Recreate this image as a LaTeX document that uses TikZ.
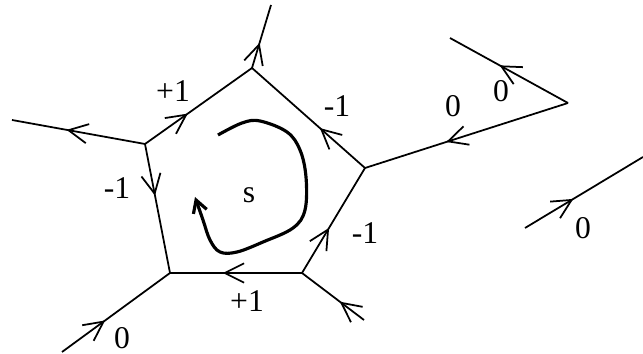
\documentclass[tikz,border=0pt]{standalone}
\usepackage{fontspec}
\setmainfont{Liberation Serif}
\usetikzlibrary{arrows.meta,decorations.markings}

\begin{document}
\begin{tikzpicture}[x=0.02cm, y=-0.02cm, line width=1pt,
    midarrow/.style={postaction={decorate}, decoration={markings, mark=at position #1 with {\arrow{Straight Barb[length=11pt,width=11pt]}}}},
    weight/.style={font=\fontsize{18}{20}\selectfont, inner sep=0pt},
    swirl/.style={line width=1.8pt, -{Straight Barb[length=7pt,width=8pt]}}]
            \useasboundingbox (0,0) rectangle (643,354);

            % Pentagon corners and free ends
            \coordinate (top) at (252,68);
            \coordinate (lft) at (145,144);
            \coordinate (bl) at (170,273);
            \coordinate (br) at (302,273);
            \coordinate (rgt) at (365,168);
            \coordinate (topout) at (271,5);
            \coordinate (lftout) at (12,120);
            \coordinate (blout) at (62,352);
            \coordinate (brout) at (364,320);
            \coordinate (kink) at (568,103);
            \coordinate (kinkout) at (450,38);
            \coordinate (loosea) at (525,228);
            \coordinate (looseb) at (643,157);

            % Pentagon edges
            \draw[midarrow=0.4] (lft) -- (top);
            \draw[midarrow=0.4] (rgt) -- (top);
            \draw[midarrow=0.4] (lft) -- (bl);
            \draw[midarrow=0.6] (br) -- (bl);
            \draw[midarrow=0.43] (br) -- (rgt);

            % Outer edges
            \draw[midarrow=0.4] (top) -- (topout);
            \draw[midarrow=0.59] (lft) -- (lftout);
            \draw[midarrow=0.4] (blout) -- (bl);
            \draw[midarrow=0.39] (brout) -- (br);
            \draw[midarrow=0.6] (kink) -- (rgt);
            \draw[midarrow=0.58] (kink) -- (kinkout);
            \draw[midarrow=0.41] (loosea) -- (looseb);

            % Circulation
            \draw[swirl] plot[smooth, tension=0.6] coordinates {(218,135) (242,123) (260,121) (287,132) (300,150) (306,177) (305,210) (293,228) (263,242) (237,252) (220,252) (210,240) (203,220) (195,197)};

            % Labels
            \node[weight] (wtl) at (173,91) {+1};
            \node[weight] (wtr) at (337,106) {-1};
            \node[weight] (wkr) at (453,106) {0};
            \node[weight] (wku) at (501,91) {0};
            \node[weight] (wl) at (117,188) {-1};
            \node[weight] (s) at (249,195) {s};
            \node[weight] (wb) at (247,301) {+1};
            \node[weight] (wbl) at (122,338) {0};
            \node[weight] (wr) at (365,233) {-1};
            \node[weight] (wloose) at (583,228) {0};
        \end{tikzpicture}
\end{document}
